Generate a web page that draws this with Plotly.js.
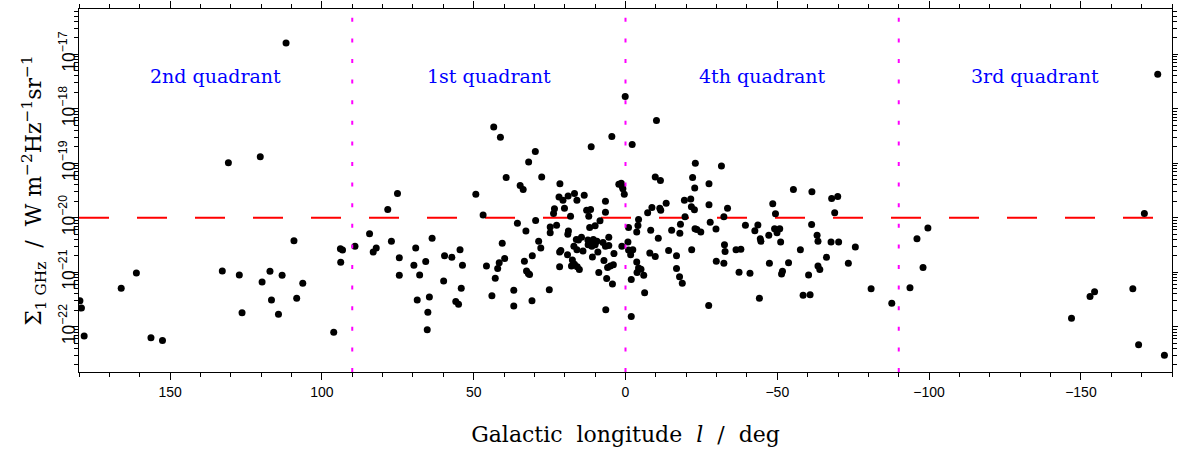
<!DOCTYPE html>
<html>
<head>
<meta charset="utf-8">
<script src="https://cdn.plot.ly/plotly-3.0.1.min.js"></script>
<style>html,body{margin:0;padding:0;background:#fff;}#chart{width:1178px;height:452px;}</style>
</head>
<body>
<div id="chart"></div>
<script>
// Galactic longitude (deg) and 1 GHz surface brightness (W m^-2 Hz^-1 sr^-1), by quadrant
const q2Lon = [179.7,179.2,178.3,166.1,161.1,156.3,152.5,132.8,130.8,127.2,126.3,120.3,119.7,117.1,116.6,114.3,113.1,111.8,109.2,108.3,106.3,96.1,93.9,93.2,93.8];
const q2Sigma = [3.0e-22,2.2e-22,6.8e-23,5.1e-22,9.7e-22,6.3e-23,5.6e-23,1.05e-21,1.02e-19,8.9e-22,1.8e-22,1.32e-19,6.6e-22,1.04e-21,3.1e-22,1.7e-22,8.8e-22,1.6e-17,3.8e-21,3.35e-22,6.3e-22,7.9e-23,2.7e-21,2.55e-21,1.52e-21];

const q1Lon = [89.1,84.3,83.1,82.1,78.3,77.1,75.1,74.5,74.5,69.1,69.7,67.8,63.7,65.8,68.6,64.6,65.1,65.3,59.6,57.2,54.5,53.7,59.9,54.1,55.9,55.0,49.3,46.9,45.8,
  43.4,41.2,29.7,31.9,39.3,27.6,34.7,33.7,35.6,29.6,32.8,40.6,28.6,27.9,41.6,39.8,42.1,42.9,44.0,36.8,36.8,33.3,30.7,32.6,32.0,31.6,30.8,25.1,
  21.6,21.9,20.6,18.9,16.8,16.0,13.6,23.4,20.1,23.7,18.1,12.8,11.5,12.1,24.8,22.7,24.8,18.8,19.0,11.8,10.0,8.4,6.6,6.6,4.5,11.3,0.1,
  2.2,1.4,1.05,0.86,0.4,
  21.3,21.7,19.1,17.5,17.8,16.8,15.9,15.2,21.7,16.2,15.5,14.5,17.0,16.0,14.0,
  12.4,11.5,10.6,10.0,9.4,11.1,12.3,9.1,10.9,7.4,6.6,5.5,5.5,3.8,7.1,5.9,5.0,4.0,8.8,6.2,4.3,6.5,1.2];
const q1Sigma = [3.0e-21,5.1e-21,2.35e-21,2.8e-21,1.42e-20,3.7e-21,2.8e-20,1.85e-21,8.8e-22,2.8e-21,1.35e-21,8.9e-22,4.2e-21,1.58e-21,3.1e-22,3.5e-22,1.85e-22,8.8e-23,2.0e-21,1.88e-21,2.6e-21,1.35e-21,6.9e-22,5.1e-22,2.9e-22,2.6e-22,2.7e-20,1.12e-20,1.3e-21,
  4.6e-19,3.0e-19,1.65e-19,1.05e-19,5.5e-20,5.6e-20,3.9e-20,3.3e-20,7.9e-21,8.9e-21,5.7e-21,3.4e-21,3.7e-21,2.8e-21,1.5e-21,1.78e-21,1.17e-21,7.8e-22,3.7e-22,4.7e-22,2.4e-22,1.6e-21,2.0e-21,1.05e-21,9.5e-22,9.1e-22,3.0e-22,4.8e-22,
  4.2e-20,2.4e-20,2.1e-20,2.5e-20,2.8e-20,2.1e-20,2.6e-20,1.46e-20,1.5e-20,1.2e-20,1.07e-20,1.38e-20,1.41e-20,1.07e-20,6.8e-21,7.3e-21,5.3e-21,5.7e-21,5.0e-21,6.6e-21,7.1e-21,8.8e-21,2.0e-20,1.26e-20,3.1e-19,2.0e-19,1.68e-18,
  4.1e-20,4.3e-20,3.7e-20,3.4e-20,2.7e-20,
  2.5e-21,2.35e-21,2.1e-21,1.68e-21,1.3e-21,1.4e-21,1.26e-21,1.12e-21,1.26e-21,4.0e-21,3.9e-21,4.4e-21,3.0e-21,2.6e-21,2.45e-21,
  3.9e-21,3.5e-21,4.0e-21,3.2e-21,3.7e-21,3.0e-21,3.2e-21,2.35e-21,1.9e-21,3.5e-21,3.0e-21,4.4e-21,3.1e-21,2.2e-21,1.65e-21,1.22e-21,1.3e-21,1.38e-21,9.9e-22,7.7e-22,6.1e-22,2.05e-22,3.0e-21];

const q4Lon = [-10.2,-2.2,-9.8,-11.5,-23.0,-31.6,-22.1,-22.8,-27.5,-19.4,-21.5,-21.7,-22.7,-13.4,-11.3,-11.6,-8.7,-7.3,-27.5,-33.6,-19.6,-32.4,-4.3,-4.1,-1.0,-3.7,-8.3,-18.1,-17.9,-15.2,-22.9,-23.5,-24.8,-27.9,-29.8,-39.5,-43.6,-42.6,-44.4,-44.6,-47.2,
  -0.8,-1.0,-2.4,-1.7,-3.7,-4.3,-5.1,-3.8,-6.0,-1.9,-6.3,-1.9,-10.8,-8.0,-9.8,-14.2,-16.8,-16.8,-17.8,-18.7,-21.8,-29.9,-32.6,-32.8,-32.4,-36.4,-38.0,-37.4,-41.0,-27.4,-44.1,
  -55.3,-61.4,-67.9,-69.9,-48.5,-49.4,-68.9,-61.3,-49.1,-50.8,-49.9,-51.1,-63.1,-63.4,-67.7,-70.2,-57.6,-75.7,-66.2,-47.4,-53.7,-51.7,-51.4,-63.4,-64.0,-73.4,-60.3,-58.5,-60.8,-80.9,-87.7];
const q4Sigma = [6.1e-19,2.2e-19,5.6e-20,4.8e-20,1.0e-19,8.9e-20,5.5e-20,3.5e-20,4.2e-20,2.1e-20,2.2e-20,1.6e-20,1.4e-20,1.85e-20,1.5e-20,1.38e-20,1.55e-20,1.23e-20,1.74e-20,1.5e-20,1.04e-20,1.04e-20,9.3e-21,7.2e-21,6.6e-21,5.5e-21,5.9e-21,7.6e-21,5.2e-21,5.9e-21,6.3e-21,6.1e-21,5.5e-21,8.3e-21,6.2e-21,7.3e-21,7.4e-21,5.8e-21,4.1e-21,3.7e-21,4.8e-21,
  3.6e-21,2.55e-21,2.6e-21,2.1e-21,1.55e-21,1.2e-21,1.13e-21,9.9e-22,8.8e-22,7.4e-22,4.2e-22,1.55e-22,4.2e-21,2.25e-21,1.94e-21,2.5e-21,2.0e-21,1.17e-21,8.3e-22,6.3e-22,2.6e-21,1.6e-21,3.2e-21,2.4e-21,1.46e-21,2.6e-21,2.65e-21,1.0e-21,9.6e-22,2.45e-22,3.35e-22,
  3.3e-20,3.0e-20,2.26e-20,2.45e-20,1.8e-20,1.18e-20,1.23e-20,7.5e-21,6.3e-21,6.3e-21,5.3e-21,3.6e-21,4.8e-21,3.7e-21,3.6e-21,3.6e-21,2.6e-21,2.9e-21,1.88e-21,1.46e-21,1.5e-21,1.04e-21,9.3e-22,1.3e-21,1.12e-21,1.46e-21,8.9e-22,3.8e-22,3.85e-22,5.0e-22,2.7e-22];

const q3Lon = [-93.7,-96.0,-98.0,-99.6,-146.9,-153.0,-154.5,-167.1,-169.0,-170.9,-177.5,-175.3];
const q3Sigma = [5.2e-22,4.1e-21,1.22e-21,6.5e-21,1.43e-22,3.6e-22,4.4e-22,5.0e-22,4.7e-23,1.2e-20,3.0e-23,4.3e-18];

// Reference level and quadrant boundaries
const thresholdSigma = 1e-20;
const thresholdLon = [180, -180];
const boundaryLon = [90, 0, -90];
const quadrantNames = ["2nd quadrant", "1st quadrant", "4th quadrant", "3rd quadrant"];
const quadrantCentres = [135, 45, -45, -135];

const serif = "DejaVu Serif, serif";
const sans = "Liberation Sans, Arial, sans-serif";
const sp = "\u00a0\u00a0";

const pointStyle = {mode: "markers", type: "scatter", marker: {color: "#000", size: 7}, showlegend: false, hoverinfo: "x+y"};
const groups = [[q2Lon, q2Sigma], [q1Lon, q1Sigma], [q4Lon, q4Sigma], [q3Lon, q3Sigma]];

const traces = [{
  type: "scatter", mode: "lines", x: thresholdLon, y: thresholdLon.map(() => thresholdSigma),
  line: {color: "#ff0000", width: 2, dash: "30px,28px"}, showlegend: false, hoverinfo: "skip"
}];
groups.forEach(g => traces.push(Object.assign({}, pointStyle, {x: g[0], y: g[1]})));

const shapes = boundaryLon.map(l => ({
  type: "line", xref: "x", yref: "paper", x0: l, x1: l, y0: 0, y1: 1,
  line: {color: "#ff00ff", width: 2, dash: "4px,16.6px"}
}));

const annotations = quadrantNames.map((t, i) => ({
  text: t, xref: "x", yref: "paper", x: quadrantCentres[i], y: 0.816,
  showarrow: false, xanchor: "center", yanchor: "middle",
  font: {family: serif, size: 19, color: "#0000ff"}
}));

const layout = {
  width: 1178, height: 452,
  margin: {l: 79, r: 6, t: 9, b: 80},
  paper_bgcolor: "#fff", plot_bgcolor: "#fff",
  showlegend: false,
  xaxis: {
    range: [180, -180], autorange: false,
    showgrid: false, zeroline: false,
    showline: true, linecolor: "#000", linewidth: 1, mirror: "allticks",
    ticks: "outside", ticklen: 7, tickwidth: 1, tickcolor: "#000",
    dtick: 50, tick0: 0,
    minor: {dtick: 10, ticks: "outside", ticklen: 4, tickcolor: "#000", showgrid: false},
    tickfont: {family: sans, size: 14, color: "#000"},
    title: {text: "Galactic" + sp + "longitude" + sp + "<i>l</i>" + sp + "/" + sp + "deg", font: {family: serif, size: 22, color: "#000"}, standoff: 27}
  },
  yaxis: {
    type: "log", range: [-22.83, -16.17], autorange: false,
    showgrid: false, zeroline: false,
    showline: true, linecolor: "#000", linewidth: 1, mirror: "allticks",
    ticks: "outside", ticklen: 7, tickwidth: 1, tickcolor: "#000",
    dtick: 1, exponentformat: "power", showexponent: "all",
    minor: {dtick: "D1", ticks: "outside", ticklen: 4, tickcolor: "#000", showgrid: false},
    tickangle: -90, ticklabelstandoff: -10,
    tickfont: {family: sans, size: 14, color: "#000"},
    title: {text: "Σ<sub>1 GHz</sub>" + sp + "/" + sp + "W m<sup>−2</sup>Hz<sup>−1</sup>sr<sup>−1</sup>", font: {family: serif, size: 22, color: "#000"}, standoff: 8}
  },
  shapes: shapes,
  annotations: annotations
};

Plotly.newPlot("chart", traces, layout, {displayModeBar: false, responsive: false, staticPlot: true});
</script>
</body>
</html>
